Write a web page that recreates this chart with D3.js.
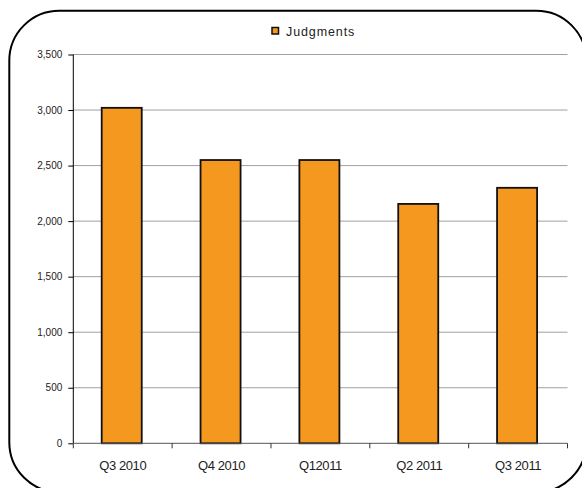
<!DOCTYPE html>
<html>
<head>
<meta charset="utf-8">
<script src="https://cdn.jsdelivr.net/npm/d3@7"></script>
<style>
  html, body { margin: 0; padding: 0; background: #fff; }
  svg { display: block; }
  text { font-family: "Liberation Sans", Arial, sans-serif; fill: #222; }
</style>
</head>
<body>
<svg id="chart" width="582" height="488"></svg>
<script>
const categories = ["Q3 2010", "Q4 2010", "Q12011", "Q2 2011", "Q3 2011"];
const judgments = [3020, 2550, 2550, 2155, 2300];
const yTicks = [0, 500, 1000, 1500, 2000, 2500, 3000, 3500];
const seriesName = "Judgments";

const svg = d3.select("#chart");
const margin = { left: 73.3, right: 582 - 567.5, top: 54.5, bottom: 488 - 443.3 };
const W = 582, H = 488;

// outer rounded frame
svg.append("rect")
  .attr("x", 9.3).attr("y", 10.7)
  .attr("width", 577).attr("height", 481.5)
  .attr("rx", 50).attr("ry", 50)
  .attr("fill", "#fff").attr("stroke", "#000").attr("stroke-width", 2);

const x = d3.scaleBand().domain(categories)
  .range([margin.left, W - margin.right]).paddingInner(0).paddingOuter(0);
const y = d3.scaleLinear().domain([0, 3500]).range([H - margin.bottom, margin.top]);

// gridlines
svg.append("g").selectAll("line").data(yTicks.filter(d => d > 0)).join("line")
  .attr("x1", margin.left).attr("x2", W - margin.right)
  .attr("y1", d => y(d)).attr("y2", d => y(d))
  .attr("stroke", "#a0a0a0").attr("stroke-width", 1);

// bars
const barW = x.bandwidth() * 0.405;
svg.append("g").selectAll("rect").data(judgments).join("rect")
  .attr("x", (d, i) => x(categories[i]) + x.bandwidth() / 2 - barW / 2 - 1)
  .attr("y", d => y(d))
  .attr("width", barW)
  .attr("height", d => y(0) - y(d))
  .attr("fill", "#F5981F")
  .attr("stroke", "#111").attr("stroke-width", 1.8);

// y axis
const yAxis = d3.axisLeft(y).tickValues(yTicks).tickSize(5).tickPadding(6)
  .tickFormat(d3.format(","));
const gy = svg.append("g").attr("transform", `translate(${margin.left},0)`).call(yAxis);
gy.select(".domain").attr("stroke", "#000").attr("d", `M0,${y(3500)}V${y(0)}`);
gy.selectAll(".tick line").attr("stroke", "#000");
gy.selectAll(".tick text").style("font-size", "10px").style("fill", "#222")
  .style("font-family", '"Liberation Sans", Arial, sans-serif');

// x axis
const xAxis = d3.axisBottom(x).tickSize(0).tickPadding(17);
const gx = svg.append("g").attr("transform", `translate(0,${y(0)})`).call(xAxis);
gx.select(".domain").attr("stroke", "#555").attr("d", `M${margin.left},0H${W - margin.right}`);
gx.selectAll(".tick text").style("font-size", "13px").style("fill", "#222")
  .style("letter-spacing", "-0.4px")
  .style("font-family", '"Liberation Sans", Arial, sans-serif');
// category boundary ticks
const bounds = categories.map(c => x(c)).concat([x(categories[categories.length - 1]) + x.bandwidth()]);
svg.append("g").selectAll("line").data(bounds).join("line")
  .attr("x1", d => d).attr("x2", d => d)
  .attr("y1", y(0)).attr("y2", y(0) + 5)
  .attr("stroke", "#333").attr("stroke-width", 1);

// legend
const lg = svg.append("g");
lg.append("rect").attr("x", 272).attr("y", 27.5).attr("width", 6.5).attr("height", 6.5)
  .attr("fill", "#F5981F").attr("stroke", "#111").attr("stroke-width", 1.5);
lg.append("text").attr("x", 286).attr("y", 35.5)
  .style("font-size", "12.5px").style("letter-spacing", "0.9px")
  .text(seriesName);
</script>
</body>
</html>
